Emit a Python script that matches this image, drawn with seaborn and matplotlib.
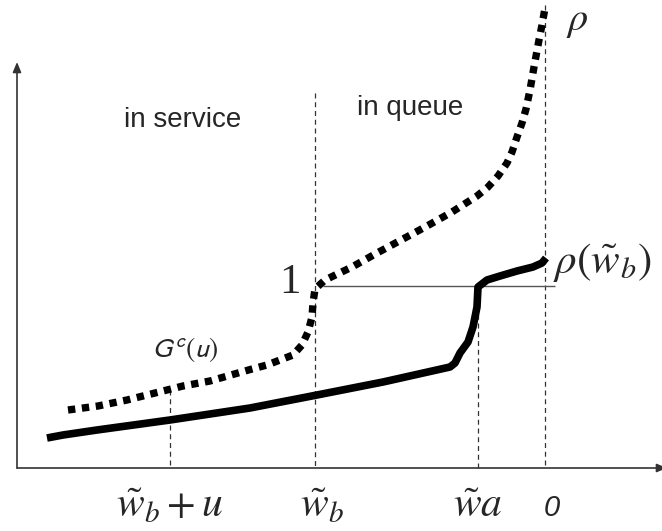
import matplotlib
matplotlib.use("Agg")
import matplotlib.pyplot as plt
import seaborn as sns

# curve points (x, y in picture units, y grows downward)
gc_x = [68, 98, 127, 155, 183, 210, 252, 267, 280, 293, 302, 308, 312, 313, 315,
        325, 352, 377, 403, 427, 452, 477, 488, 498, 507, 512, 517, 522, 526, 530,
        534, 539, 542, 545]
gc_y = [410, 406, 400, 393, 386, 381, 369, 365, 360, 355, 345, 332, 317, 303, 289,
        280, 267, 253, 239, 226, 212, 196, 187, 176, 163, 152, 137, 123, 109, 90,
        67, 40, 25, 8]

rho_x = [47, 63, 97, 170, 250, 317, 383, 450, 455, 460, 468, 473, 477, 478,
         487, 500, 517, 533, 542, 546]
rho_y = [438, 435, 430, 420, 408, 395, 382, 367, 363, 353, 342, 327, 307, 287,
         280, 276, 271, 267, 263, 258]

# vertical guide lines: position and top end
guide_x = [170, 315, 478, 545]
guide_top = [390, 93, 288, 5]
axis_y = 468
level_one = 286

sns.set_style("white")
plt.rcParams["mathtext.fontset"] = "stix"

fig = plt.figure(figsize=(6.62, 5.31), dpi=100)
ax = fig.add_axes([0, 0, 1, 1])
ax.set_xlim(0, 662)
ax.set_ylim(531, 0)
ax.axis("off")

# axes with arrows
arrow = dict(arrowstyle="-|>,head_length=0.6,head_width=0.25",
             color="#333333", lw=1.2, shrinkA=0, shrinkB=0)
ax.annotate("", xy=(17, 62), xytext=(17, axis_y), arrowprops=arrow)
ax.annotate("", xy=(667, axis_y), xytext=(17, axis_y), arrowprops=arrow,
            annotation_clip=False)

ax.vlines(guide_x, guide_top, axis_y, colors="#333333", lw=0.9, linestyles=(0, (4, 3)))
ax.hlines(level_one, 323, 555, colors="#555555", lw=1.0)

sns.lineplot(x=gc_x, y=gc_y, sort=False, estimator=None, ax=ax, color="black",
             lw=5.3, linestyle=(0, (1, 0.9)), dash_capstyle="butt")
sns.lineplot(x=rho_x, y=rho_y, sort=False, estimator=None, ax=ax, color="black",
             lw=5.5, solid_capstyle="butt", solid_joinstyle="round")

sans = "Liberation Sans"
ax.text(183, 120, "in service", fontsize=20, family=sans, ha="center", va="center")
ax.text(410, 108, "in queue", fontsize=20, family=sans, ha="center", va="center")
ax.text(185, 350, r"$G^c(u)$", fontsize=20, math_fontfamily="stixsans",
        ha="center", va="center")
ax.text(290, 283, "1", fontsize=31, family="Liberation Serif", ha="center", va="center")
ax.text(577, 20, r"$\rho$", fontsize=29, ha="center", va="center")
ax.text(553, 262, r"$\rho(\tilde{w}_b)$", fontsize=31, ha="left", va="center")
ax.text(170, 505, r"$\tilde{w}_b + u$", fontsize=30, ha="center", va="center")
ax.text(322, 505, r"$\tilde{w}_b$", fontsize=30, ha="center", va="center")
ax.text(478, 505, r"$\tilde{w}a$", fontsize=30, ha="center", va="center")
ax.text(552, 508, "0", fontsize=21, family=sans, style="italic", ha="center", va="center")

fig.savefig("out.png", dpi=100)
